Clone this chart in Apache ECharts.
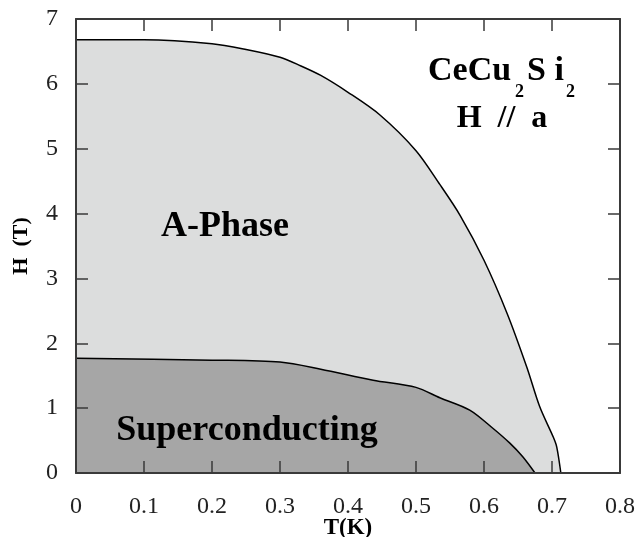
<!DOCTYPE html>
<html>
<head>
<meta charset="utf-8">
<script src="https://cdn.jsdelivr.net/npm/echarts@6/dist/echarts.min.js"></script>
<style>
  html, body { margin: 0; padding: 0; background: #fff; }
  #main { width: 637px; height: 537px; }
</style>
</head>
<body>
<div id="main"></div>
<script>
// phase boundaries, T (K) vs H (T)
var aPhaseT = [0, 0.1, 0.2, 0.25, 0.3, 0.33, 0.36, 0.4, 0.447, 0.5, 0.535, 0.565, 0.6, 0.634, 0.663, 0.682, 0.702, 0.707, 0.713];
var aPhaseH = [6.68, 6.68, 6.62, 6.53, 6.41, 6.28, 6.13, 5.87, 5.52, 4.97, 4.45, 3.97, 3.28, 2.46, 1.63, 1.02, 0.55, 0.4, 0];
var scT = [0, 0.2, 0.3, 0.36, 0.437, 0.5, 0.535, 0.579, 0.613, 0.638, 0.657, 0.675];
var scH = [1.77, 1.74, 1.71, 1.6, 1.43, 1.32, 1.16, 0.97, 0.69, 0.46, 0.25, 0];
var xTicks = [0, 0.8, 0.1];   // min, max, step
var yTicks = [0, 7, 1];

var pairs = function (xs, ys) {
  return xs.map(function (x, i) { return [x, ys[i]]; });
};

var serif = "'Liberation Serif', 'DejaVu Serif', serif";
var axisCol = '#3a3a3a';

var myChart = echarts.init(document.getElementById('main'));

var baseX = {
  type: 'value',
  z: 5,
  min: xTicks[0], max: xTicks[1], interval: xTicks[2],
  splitLine: { show: false },
  axisLine: { show: true, onZero: false, lineStyle: { color: axisCol, width: 2 } },
  axisTick: { show: true, inside: true, length: 12, lineStyle: { color: axisCol, width: 1.5 } }
};
var baseY = {
  type: 'value',
  z: 5,
  min: yTicks[0], max: yTicks[1], interval: yTicks[2],
  splitLine: { show: false },
  axisLine: { show: true, onZero: false, lineStyle: { color: axisCol, width: 2 } },
  axisTick: { show: true, inside: true, length: 12, lineStyle: { color: axisCol, width: 1.5 } }
};

var option = {
  backgroundColor: '#fff',
  animation: false,
  // keep the plot box fixed, labels may sit in the margins
  grid: { left: 76, right: 17, top: 19, bottom: 64, containLabel: false, outerBoundsMode: 'none' },
  xAxis: [
    Object.assign({}, baseX, {
      position: 'bottom',
      name: 'T(K)',
      nameLocation: 'middle',
      nameGap: 44,
      nameMoveOverlap: false,
      nameTextStyle: { fontFamily: serif, fontWeight: 'bold', fontSize: 23, color: '#000' },
      axisLabel: { margin: 22, fontFamily: serif, fontSize: 24, color: '#222' }
    }),
    Object.assign({}, baseX, { position: 'top', axisLabel: { show: false } })
  ],
  yAxis: [
    Object.assign({}, baseY, {
      position: 'left',
      name: 'H  (T)',
      nameLocation: 'middle',
      nameGap: 44,
      nameMoveOverlap: false,
      nameTextStyle: { fontFamily: serif, fontWeight: 'bold', fontSize: 22, color: '#000' },
      axisLabel: { margin: 18, fontFamily: serif, fontSize: 24, color: '#222' }
    }),
    Object.assign({}, baseY, { position: 'right', axisLabel: { show: false } })
  ],
  series: [
    {
      name: 'A-Phase',
      type: 'line',
      data: pairs(aPhaseT, aPhaseH),
      showSymbol: false,
      smooth: 0.3,
      lineStyle: { color: '#000', width: 1.5 },
      areaStyle: { color: '#dcdddd', opacity: 1 },
      z: 2
    },
    {
      name: 'Superconducting',
      type: 'line',
      data: pairs(scT, scH),
      showSymbol: false,
      smooth: 0.3,
      lineStyle: { color: '#000', width: 1.5 },
      areaStyle: { color: '#a6a6a6', opacity: 1 },
      z: 3
    }
  ],
  graphic: [
    { type: 'text', z: 10, style: { text: 'A-Phase', x: 225, y: 227, textAlign: 'center', textVerticalAlign: 'middle', verticalAlign: 'middle', fontFamily: serif, fontWeight: 'bold', fontSize: 36, fill: '#000' } },
    { type: 'text', z: 10, style: { text: 'Superconducting', x: 247, y: 431, textAlign: 'center', textVerticalAlign: 'middle', verticalAlign: 'middle', fontFamily: serif, fontWeight: 'bold', fontSize: 36, fill: '#000' } },
    { type: 'text', z: 10, style: { text: 'CeCu', x: 428, y: 71, textAlign: 'left', textVerticalAlign: 'middle', verticalAlign: 'middle', fontFamily: serif, fontWeight: 'bold', fontSize: 34, fill: '#000' } },
    { type: 'text', z: 10, style: { text: '2', x: 515, y: 92, textAlign: 'left', textVerticalAlign: 'middle', verticalAlign: 'middle', fontFamily: serif, fontWeight: 'bold', fontSize: 18, fill: '#000' } },
    { type: 'text', z: 10, style: { text: 'S i', x: 527, y: 71, textAlign: 'left', textVerticalAlign: 'middle', verticalAlign: 'middle', fontFamily: serif, fontWeight: 'bold', fontSize: 34, fill: '#000' } },
    { type: 'text', z: 10, style: { text: '2', x: 566, y: 92, textAlign: 'left', textVerticalAlign: 'middle', verticalAlign: 'middle', fontFamily: serif, fontWeight: 'bold', fontSize: 18, fill: '#000' } },
    { type: 'text', z: 10, style: { text: 'H  //  a', x: 502, y: 119, textAlign: 'center', textVerticalAlign: 'middle', verticalAlign: 'middle', fontFamily: serif, fontWeight: 'bold', fontSize: 32, fill: '#000' } }
  ]
};

myChart.setOption(option);
</script>
</body>
</html>
